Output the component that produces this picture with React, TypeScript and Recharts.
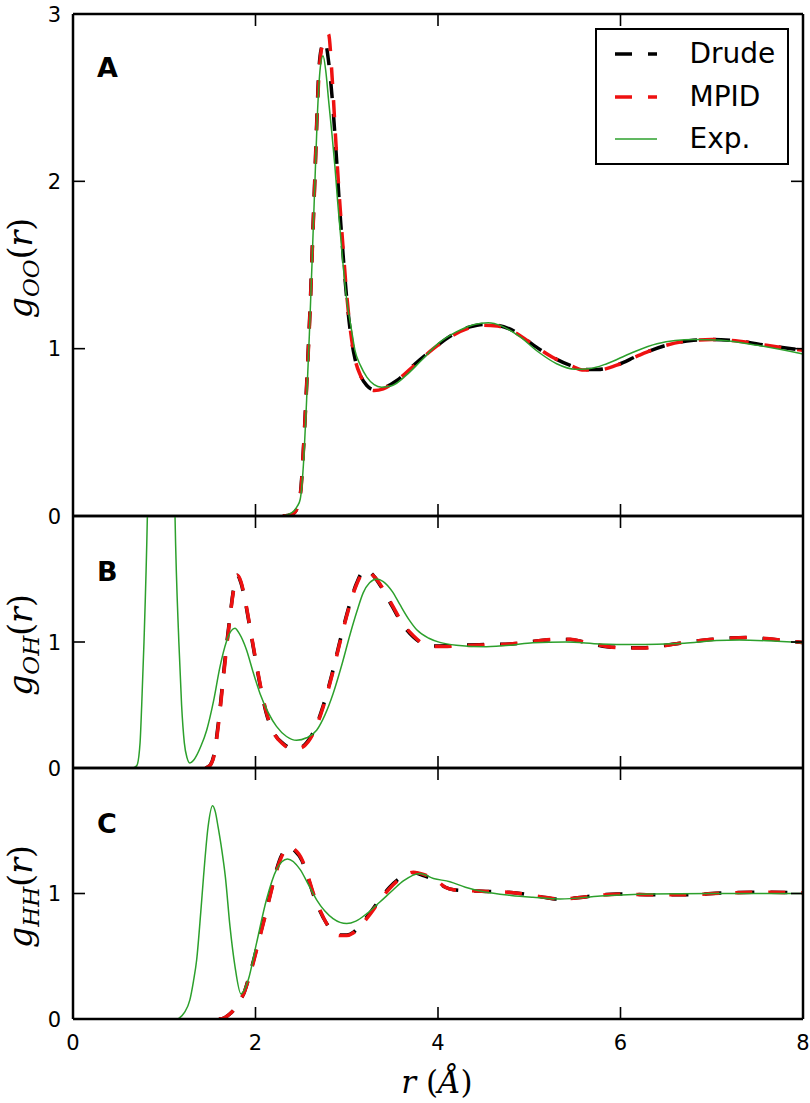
import React from 'react';
import { LineChart, Line, XAxis, YAxis, Legend } from 'recharts';

const xTicks = [0, 2, 4, 6, 8];

// A: g_OO(r)
const rOOsim = [2.30, 2.40, 2.46, 2.50, 2.53, 2.57, 2.60, 2.63, 2.65, 2.67, 2.69, 2.72, 2.76, 2.80, 2.84, 2.88, 2.92, 2.96, 3.00, 3.04, 3.09, 3.15, 3.22, 3.30, 3.40, 3.55, 3.75, 3.95, 4.15, 4.35, 4.50, 4.65, 4.85, 5.05, 5.25, 5.45, 5.60, 5.75, 5.95, 6.20, 6.50, 6.80, 7.00, 7.30, 7.60, 8.00];
const gOOdrude = [0, 0.01, 0.05, 0.18, 0.45, 0.9, 1.27, 1.72, 2.02, 2.34, 2.62, 2.79, 2.84, 2.72, 2.5, 2.2, 1.86, 1.56, 1.3, 1.1, 0.94, 0.84, 0.78, 0.755, 0.765, 0.81, 0.91, 1.0, 1.08, 1.13, 1.145, 1.14, 1.1, 1.02, 0.95, 0.9, 0.875, 0.875, 0.9, 0.96, 1.02, 1.05, 1.055, 1.045, 1.02, 0.99];
const gOOmpid = [0, 0.01, 0.05, 0.17, 0.44, 0.88, 1.25, 1.7, 2.0, 2.32, 2.58, 2.78, 2.85, 2.88, 2.62, 2.24, 1.9, 1.6, 1.32, 1.11, 0.94, 0.84, 0.775, 0.75, 0.76, 0.81, 0.905, 1.0, 1.075, 1.125, 1.14, 1.135, 1.095, 1.02, 0.95, 0.9, 0.872, 0.872, 0.9, 0.96, 1.02, 1.05, 1.055, 1.045, 1.02, 0.99];
const rOOexp = [2.30, 2.36, 2.42, 2.46, 2.49, 2.53, 2.56, 2.59, 2.62, 2.65, 2.68, 2.71, 2.74, 2.77, 2.80, 2.84, 2.87, 2.90, 2.93, 2.96, 3.00, 3.05, 3.09, 3.15, 3.22, 3.30, 3.38, 3.50, 3.65, 3.80, 4.00, 4.20, 4.40, 4.55, 4.70, 4.90, 5.10, 5.30, 5.50, 5.65, 5.85, 6.10, 6.40, 6.80, 7.10, 7.50, 8.00];
const gOOexp = [0, 0.01, 0.03, 0.06, 0.1, 0.35, 0.69, 1.08, 1.52, 1.98, 2.42, 2.68, 2.75, 2.66, 2.49, 2.27, 2.09, 1.88, 1.69, 1.5, 1.29, 1.12, 0.99, 0.9, 0.83, 0.785, 0.77, 0.78, 0.84, 0.92, 1.03, 1.1, 1.145, 1.155, 1.135, 1.07, 0.98, 0.91, 0.877, 0.88, 0.91, 0.97, 1.03, 1.055, 1.05, 1.02, 0.968];

// B: g_OH(r)
const rOHsim = [1.45, 1.50, 1.54, 1.60, 1.65, 1.69, 1.72, 1.76, 1.80, 1.84, 1.885, 1.93, 1.98, 2.05, 2.12, 2.20, 2.30, 2.41, 2.50, 2.58, 2.65, 2.74, 2.84, 2.93, 3.02, 3.11, 3.20, 3.30, 3.40, 3.50, 3.62, 3.73, 3.84, 3.95, 4.10, 4.30, 4.55, 4.80, 5.08, 5.30, 5.45, 5.60, 5.85, 6.05, 6.25, 6.45, 6.65, 6.98, 7.20, 7.40, 7.60, 7.80, 8.00];
const gOHdrude = [0, 0.02, 0.09, 0.4, 0.75, 1.02, 1.2, 1.42, 1.53, 1.47, 1.33, 1.15, 0.94, 0.66, 0.43, 0.28, 0.196, 0.156, 0.165, 0.22, 0.31, 0.49, 0.75, 1.02, 1.27, 1.47, 1.575, 1.52, 1.41, 1.28, 1.13, 1.04, 0.985, 0.968, 0.97, 0.976, 0.98, 0.985, 1.008, 1.02, 1.02, 1.0, 0.963, 0.955, 0.955, 0.97, 0.99, 1.02, 1.032, 1.035, 1.025, 1.012, 0.995];
const gOHmpid = [0, 0.02, 0.08, 0.38, 0.73, 1.0, 1.19, 1.41, 1.53, 1.48, 1.34, 1.16, 0.95, 0.67, 0.44, 0.28, 0.19, 0.15, 0.16, 0.21, 0.3, 0.48, 0.74, 1.01, 1.26, 1.46, 1.565, 1.52, 1.42, 1.29, 1.14, 1.05, 0.985, 0.965, 0.965, 0.972, 0.978, 0.985, 1.008, 1.022, 1.022, 1.0, 0.965, 0.952, 0.952, 0.968, 0.99, 1.02, 1.03, 1.035, 1.027, 1.012, 0.995];
const rOHexp = [0.66, 0.70, 0.735, 0.753, 0.778, 0.815, 0.86, 0.92, 0.97, 1.02, 1.08, 1.118, 1.16, 1.19, 1.22, 1.25, 1.28, 1.33, 1.40, 1.465, 1.54, 1.61, 1.68, 1.735, 1.775, 1.82, 1.90, 1.97, 2.05, 2.14, 2.23, 2.34, 2.45, 2.56, 2.67, 2.76, 2.85, 2.95, 3.04, 3.11, 3.18, 3.25, 3.33, 3.40, 3.50, 3.58, 3.68, 3.77, 3.90, 4.02, 4.20, 4.53, 4.80, 5.04, 5.40, 5.78, 6.14, 6.40, 6.70, 7.05, 7.30, 7.60, 8.00];
const gOHexp = [0, 0.02, 0.2, 0.5, 1.0, 2.0, 4.2, 7.0, 8.0, 7.0, 4.0, 2.0, 1.0, 0.5, 0.2, 0.08, 0.04, 0.07, 0.17, 0.3, 0.53, 0.8, 1.0, 1.09, 1.11, 1.07, 0.94, 0.77, 0.59, 0.44, 0.33, 0.25, 0.22, 0.24, 0.3, 0.42, 0.59, 0.83, 1.07, 1.24, 1.39, 1.47, 1.5, 1.48, 1.4, 1.3, 1.18, 1.095, 1.03, 0.997, 0.975, 0.963, 0.975, 0.995, 1.0, 0.984, 0.98, 0.982, 0.99, 1.012, 1.015, 1.01, 0.995];

// C: g_HH(r)
const rHHsim = [1.60, 1.66, 1.70, 1.76, 1.82, 1.87, 1.93, 1.98, 2.05, 2.12, 2.18, 2.23, 2.29, 2.36, 2.43, 2.51, 2.57, 2.63, 2.70, 2.78, 2.86, 2.93, 3.00, 3.07, 3.16, 3.25, 3.36, 3.47, 3.60, 3.73, 3.85, 3.99, 4.08, 4.17, 4.42, 4.83, 5.12, 5.34, 5.63, 5.96, 6.36, 6.70, 7.16, 7.60, 8.00];
const gHHdrude = [0, 0.01, 0.03, 0.07, 0.14, 0.2, 0.34, 0.47, 0.67, 0.87, 1.05, 1.19, 1.31, 1.37, 1.34, 1.26, 1.14, 1.0, 0.87, 0.76, 0.69, 0.67, 0.67, 0.69, 0.76, 0.84, 0.95, 1.05, 1.13, 1.165, 1.14, 1.094, 1.05, 1.03, 1.02, 1.006, 0.975, 0.954, 0.975, 0.996, 0.99, 0.99, 1.006, 1.01, 1.006];
const gHHmpid = [0, 0.01, 0.03, 0.07, 0.14, 0.2, 0.33, 0.46, 0.66, 0.86, 1.04, 1.18, 1.3, 1.37, 1.35, 1.27, 1.15, 1.01, 0.88, 0.76, 0.68, 0.665, 0.665, 0.685, 0.75, 0.83, 0.94, 1.04, 1.125, 1.17, 1.15, 1.1, 1.05, 1.03, 1.02, 1.006, 0.975, 0.955, 0.975, 0.995, 0.99, 0.99, 1.005, 1.01, 1.006];
const rHHexp = [1.15, 1.22, 1.28, 1.32, 1.355, 1.40, 1.43, 1.48, 1.53, 1.56, 1.59, 1.63, 1.67, 1.72, 1.775, 1.84, 1.92, 2.01, 2.12, 2.23, 2.35, 2.49, 2.58, 2.67, 2.76, 2.85, 3.00, 3.10, 3.22, 3.36, 3.51, 3.62, 3.80, 3.95, 4.13, 4.30, 4.50, 4.80, 5.04, 5.34, 5.78, 6.32, 7.20, 8.00];
const gHHexp = [0, 0.05, 0.15, 0.3, 0.47, 0.85, 1.13, 1.53, 1.7, 1.65, 1.53, 1.35, 1.13, 0.74, 0.42, 0.2, 0.31, 0.6, 0.95, 1.19, 1.275, 1.19, 1.07, 0.95, 0.86, 0.8, 0.76, 0.78, 0.84, 0.93, 1.03, 1.1, 1.16, 1.12, 1.094, 1.05, 1.014, 0.985, 0.97, 0.956, 0.98, 0.996, 1.0, 1.0];

const series = [
  { name: 'Drude', color: '#000000', width: 3.5, dash: '17 16' },
  { name: 'MPID', color: '#ee1111', width: 3.5, dash: '17 16' },
  { name: 'Exp.', color: '#2ca02c', width: 1.5, dash: undefined as string | undefined },
];

const zip = (r: number[], g: number[]) => r.map((v, i) => ({ r: v, g: g[i] }));

const SANS = 'DejaVu Sans';
const MATH = 'DejaVu Serif';
const axisLine = { stroke: '#000', strokeWidth: 2.5 };
const PLOT_L = 73;
const PLOT_R = 803;
const PLOT_T = 14;
const TICK = 12;

// inward tick marks as a path (no dependence on recharts tickLine), labels optional
function XTick(props: any) {
  const { x, payload, axisY, sgn, show } = props;
  const d = `M${x},${axisY}L${x},${axisY + sgn * TICK}`;
  return (
    <g>
      <path d={d} stroke="#000" strokeWidth={1.6} fill="none" />
      {show && (
        <text x={x} y={axisY + 31} textAnchor="middle" fontFamily={SANS} fontSize={21} fill="#000">{payload.value}</text>
      )}
    </g>
  );
}

function YTick(props: any) {
  const { y, payload, axisX, sgn, show } = props;
  const d = `M${axisX},${y}L${axisX + sgn * TICK},${y}`;
  return (
    <g>
      <path d={d} stroke="#000" strokeWidth={1.6} fill="none" />
      {show && (
        <text x={61} y={y + 7.5} textAnchor="end" fontFamily={SANS} fontSize={21} fill="#000">{payload.value}</text>
      )}
    </g>
  );
}

function YTitle({ cy, sub, letter, letterY }: { cy: number; sub: string; letter: string; letterY: number }) {
  const cx = 32;
  return (
    <g>
      <text x={cx} y={cy} transform={`rotate(-90 ${cx} ${cy})`} textAnchor="middle" fontFamily={MATH} fontSize={33} fill="#000">
        <tspan fontStyle="italic">g</tspan>
        <tspan fontStyle="italic" fontSize={23} dy={7}>{sub}</tspan>
        <tspan dy={-7}>(</tspan>
        <tspan fontStyle="italic">r</tspan>
        <tspan>)</tspan>
      </text>
      <text x={97} y={letterY} fontFamily={SANS} fontWeight="bold" fontSize={27} fill="#000">{letter}</text>
    </g>
  );
}

function XTitle({ baseY }: { baseY: number }) {
  return (
    <text x={437} y={baseY} textAnchor="middle" fontFamily={MATH} fontSize={31} fill="#000">
      <tspan fontStyle="italic">r</tspan>
      <tspan> (</tspan>
      <tspan fontStyle="italic">Å</tspan>
      <tspan>)</tspan>
    </text>
  );
}

function LegendBox(props: any) {
  const names: string[] = (props.payload || []).map((p: any) => p.value);
  const items = series.filter((s) => names.length === 0 || names.includes(s.name));
  return (
    <div style={{ position: 'absolute', left: 595, top: 28, width: 194, height: 137, boxSizing: 'border-box', border: '2.5px solid #000', background: '#fff', fontFamily: SANS, fontSize: 28, color: '#000' }}>
      {items.map((s, i) => (
        <div key={s.name} style={{ position: 'absolute', left: 0, top: 3 + i * 42.5, height: 42, width: 189, display: 'flex', alignItems: 'center' }}>
          <svg width={44} height={10} style={{ marginLeft: 17.5, flex: 'none' }}>
            <line x1={0} y1={5} x2={42} y2={5} stroke={s.color} strokeWidth={s.width} strokeDasharray={s.dash} />
          </svg>
          <span style={{ marginLeft: 31, lineHeight: '42px', whiteSpace: 'nowrap' }}>{s.name}</span>
        </div>
      ))}
    </div>
  );
}

type PanelProps = {
  top: number;
  plotH: number;
  bottomSpace: number;
  yMax: number;
  yTicks: number[];
  sub: string;
  letter: string;
  letterY: number;
  drude: { r: number }[];
  mpid: { r: number }[];
  exp: { r: number }[];
  legend?: boolean;
  xLabels?: boolean;
};

function Panel(p: PanelProps) {
  const h = PLOT_T + p.plotH + p.bottomSpace;
  const bottomAxisH = p.xLabels ? 60 : 10;
  const axisY = PLOT_T + p.plotH;
  const data = [p.drude, p.mpid, p.exp];
  return (
    <div style={{ position: 'absolute', left: 0, top: p.top - PLOT_T }}>
      <LineChart width={810} height={h} margin={{ top: 4, right: 2, bottom: p.bottomSpace - bottomAxisH, left: 13 }}>
        <XAxis
          xAxisId="b"
          type="number"
          dataKey="r"
          domain={[0, 8]}
          ticks={xTicks}
          interval={0}
          allowDataOverflow
          height={bottomAxisH}
          tickSize={0}
          tickLine={false}
          axisLine={axisLine}
          tick={<XTick axisY={axisY} sgn={-1} show={!!p.xLabels} />}
          label={p.xLabels ? <XTitle baseY={axisY + 74} /> : undefined}
        />
        <XAxis
          xAxisId="t"
          orientation="top"
          type="number"
          dataKey="r"
          domain={[0, 8]}
          ticks={xTicks}
          interval={0}
          allowDataOverflow
          height={10}
          tickSize={0}
          tickLine={false}
          axisLine={axisLine}
          tick={<XTick axisY={PLOT_T} sgn={1} show={false} />}
        />
        <YAxis
          yAxisId="l"
          type="number"
          domain={[0, p.yMax]}
          ticks={p.yTicks}
          interval={0}
          allowDataOverflow
          width={60}
          tickSize={0}
          tickLine={false}
          axisLine={axisLine}
          tick={<YTick axisX={PLOT_L} sgn={1} show />}
          label={<YTitle cy={PLOT_T + p.plotH / 2 + 3} sub={p.sub} letter={p.letter} letterY={p.letterY} />}
        />
        <YAxis
          yAxisId="r"
          orientation="right"
          type="number"
          domain={[0, p.yMax]}
          ticks={p.yTicks}
          interval={0}
          allowDataOverflow
          width={5}
          tickSize={0}
          tickLine={false}
          axisLine={axisLine}
          tick={<YTick axisX={PLOT_R} sgn={-1} show={false} />}
        />
        {series.map((s, i) => (
          <Line
            key={s.name}
            xAxisId="b"
            yAxisId="l"
            data={data[i]}
            dataKey="g"
            name={s.name}
            type="monotone"
            stroke={s.color}
            strokeWidth={s.width}
            strokeDasharray={s.dash}
            dot={false}
            activeDot={false}
            isAnimationActive={false}
          />
        ))}
        {p.legend && (
          <Legend
            layout="vertical"
            align="center"
            verticalAlign="middle"
            wrapperStyle={{ left: 0, top: 0, width: 0, height: 0, overflow: 'visible' }}
            content={(lp: any) => <LegendBox {...lp} />}
          />
        )}
      </LineChart>
    </div>
  );
}

export default function App() {
  return (
    <div style={{ position: 'absolute', left: 0, top: 0, width: 810, height: 1103, background: '#fff', overflow: 'hidden' }}>
      <Panel top={14} plotH={502} bottomSpace={20} yMax={3} yTicks={[0, 1, 2, 3]} sub="OO" letter="A" letterY={77}
        drude={zip(rOOsim, gOOdrude)} mpid={zip(rOOsim, gOOmpid)} exp={zip(rOOexp, gOOexp)} legend />
      <Panel top={516} plotH={252} bottomSpace={20} yMax={2} yTicks={[0, 1]} sub="OH" letter="B" letterY={79}
        drude={zip(rOHsim, gOHdrude)} mpid={zip(rOHsim, gOHmpid)} exp={zip(rOHexp, gOHexp)} />
      <Panel top={768} plotH={251} bottomSpace={84} yMax={2} yTicks={[0, 1]} sub="HH" letter="C" letterY={79}
        drude={zip(rHHsim, gHHdrude)} mpid={zip(rHHsim, gHHmpid)} exp={zip(rHHexp, gHHexp)} xLabels />
    </div>
  );
}
